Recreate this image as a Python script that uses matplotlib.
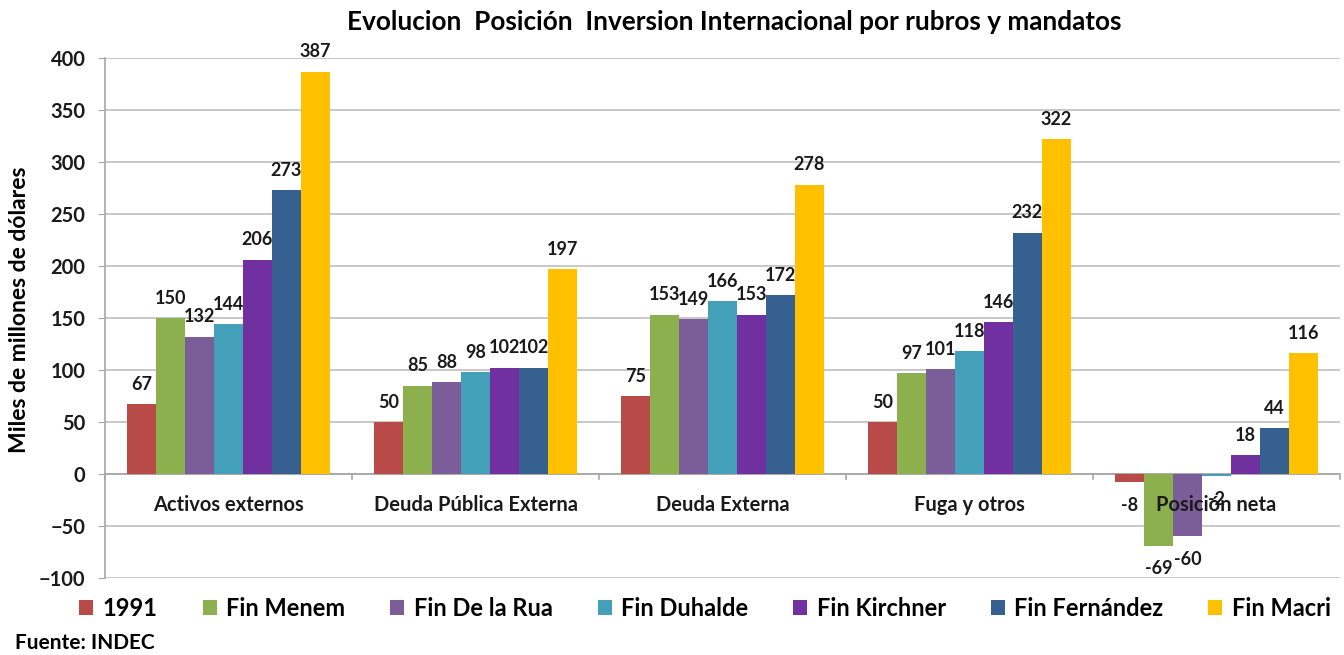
import numpy as np
import matplotlib.pyplot as plt
from matplotlib.patches import Patch

plt.rcParams['font.family'] = ['Lato', 'DejaVu Sans']

categories = ['Activos externos', 'Deuda Pública Externa', 'Deuda Externa', 'Fuga y otros', 'Posición neta']
series = ['1991', 'Fin Menem', 'Fin De la Rua', 'Fin Duhalde', 'Fin Kirchner', 'Fin Fernández', 'Fin Macri']
values = {
    '1991':          [67, 50, 75, 50, -8],
    'Fin Menem':     [150, 85, 153, 97, -69],
    'Fin De la Rua': [132, 88, 149, 101, -60],
    'Fin Duhalde':   [144, 98, 166, 118, -2],
    'Fin Kirchner':  [206, 102, 153, 146, 18],
    'Fin Fernández': [273, 102, 172, 232, 44],
    'Fin Macri':     [387, 197, 278, 322, 116],
}
colors = ['#B84A47', '#8DB04F', '#7B5D99', '#44A0B8', '#7030A0', '#35608F', '#FFC000']

fig = plt.figure(figsize=(13.44, 6.55), dpi=100)
ax = fig.add_axes([105 / 1344, 1 - 578 / 655, 1235 / 1344, 520 / 655])

n = len(series)
w = 0.117
x = np.arange(len(categories))
for i, s in enumerate(series):
    pos = x + (i - (n - 1) / 2) * w
    vals = values[s]
    ax.bar(pos, vals, width=w, color=colors[i], zorder=3)
    for p, v in zip(pos, vals):
        if v >= 0:
            ax.text(p, v + 11, str(v), ha='center', va='bottom', fontsize=13,
                    fontweight='bold', color='#1a1a1a', zorder=4)
        else:
            ax.text(p, v - 14, str(v), ha='center', va='top', fontsize=13,
                    fontweight='bold', color='#1a1a1a', zorder=4)

for xi, c in zip(x, categories):
    ax.text(xi, -30, c, ha='center', va='center', fontsize=14.5, fontweight='bold',
            color='#1a1a1a', zorder=5)

ax.set_xlim(-0.5, len(categories) - 0.5)
ax.set_ylim(-100, 400)
ax.set_yticks(np.arange(-100, 401, 50))
ax.yaxis.grid(True, color='#BFBFBF', linewidth=1.2, zorder=0)
ax.set_xticks([])
for lbl in ax.get_yticklabels():
    lbl.set_fontweight('bold')
ax.tick_params(axis='y', labelsize=14.5, length=5, pad=9, color='#A6A6A6', labelcolor='#1a1a1a')
for side in ['top', 'right', 'bottom']:
    ax.spines[side].set_visible(False)
ax.spines['left'].set_color('#A6A6A6')
ax.spines['left'].set_linewidth(1.2)

# eje horizontal en cero con marcas entre grupos
ax.axhline(0, color='#A6A6A6', linewidth=1.2, zorder=2)
for b in np.arange(-0.5, len(categories), 1.0):
    ax.plot([b, b], [0, -5], color='#A6A6A6', linewidth=1.2, zorder=2, clip_on=False)

fig.text(20 / 1344, 1 - 310 / 655, 'Miles de millones de dólares', rotation=90, fontsize=16.5,
         fontweight='bold', ha='center', va='center')
fig.text(734 / 1344, 1 - 22 / 655, 'Evolucion  Posición  Inversion Internacional por rubros y mandatos',
         fontsize=18.8, fontweight='bold', ha='center', va='center')

handles = [Patch(facecolor=c) for c in colors]
fig.legend(handles, series, loc='center', bbox_to_anchor=(705 / 1344, 1 - 608 / 655), ncol=7,
           frameon=False, prop={'size': 17, 'weight': 'bold'}, handlelength=0.6, handleheight=0.6,
           handletextpad=0.4, columnspacing=1.9)

fig.text(15 / 1344, 1 - 643 / 655, 'Fuente: INDEC', fontsize=15, fontweight='bold', ha='left', va='center')

fig.savefig('out.png', dpi=100)
